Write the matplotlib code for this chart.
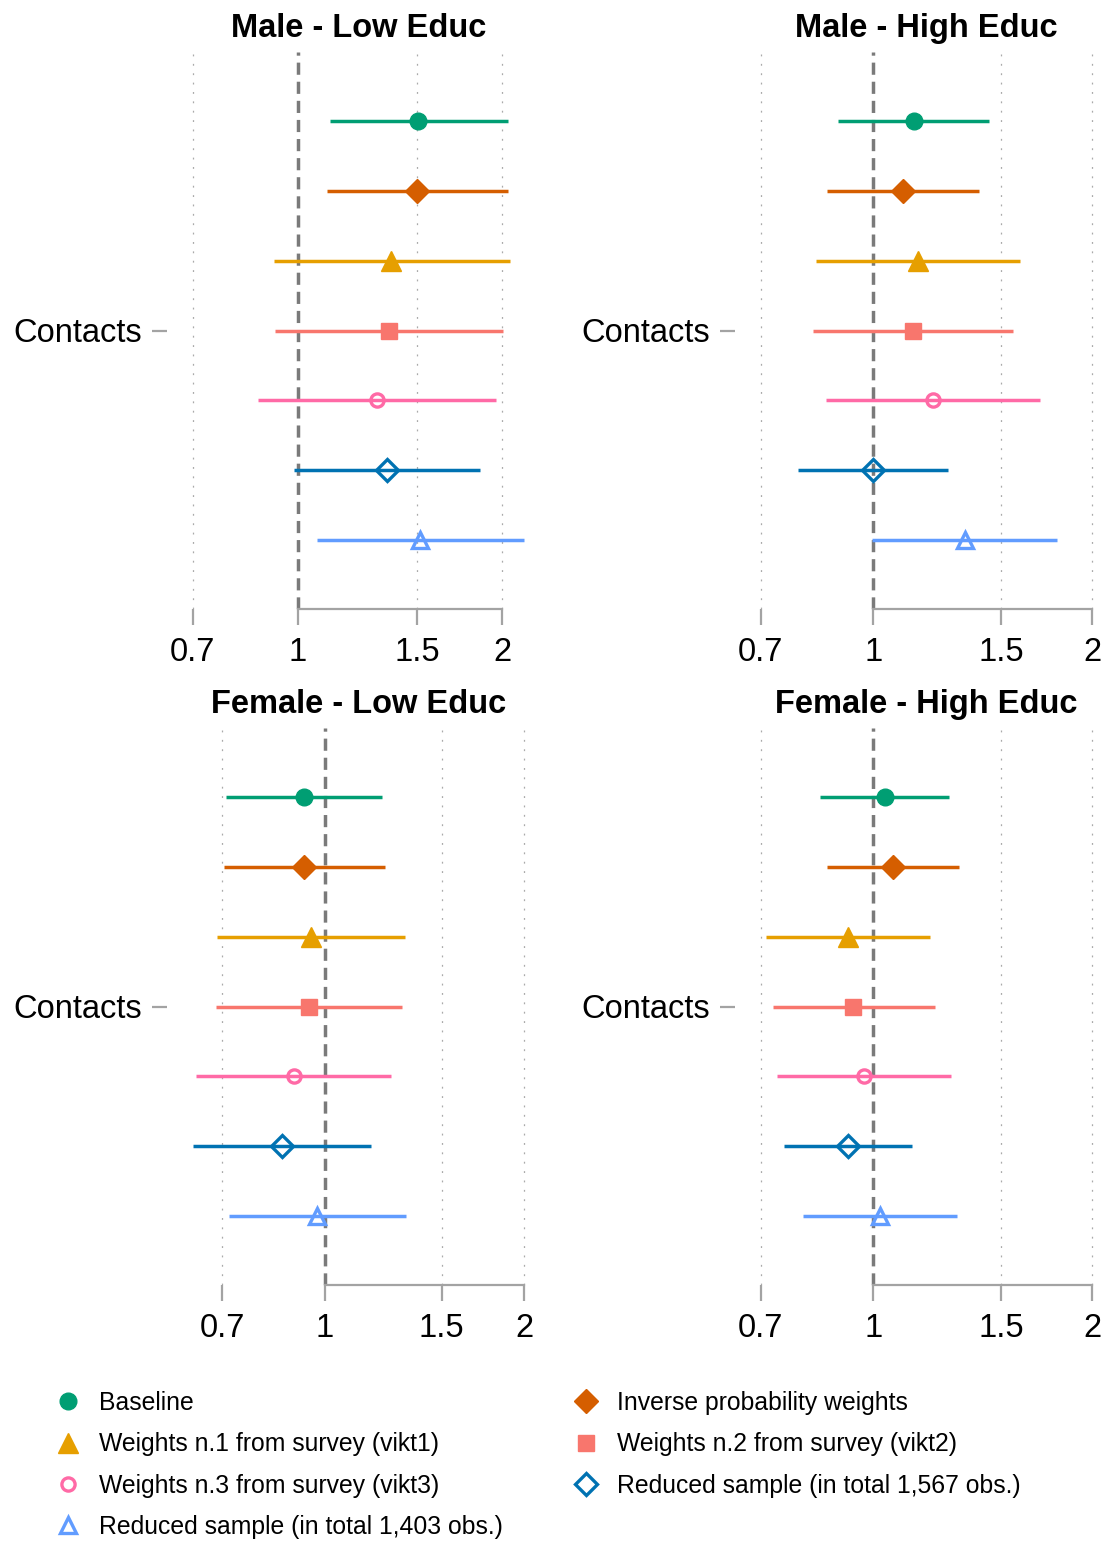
import numpy as np
import matplotlib.pyplot as plt
from matplotlib.ticker import NullLocator

plt.rcParams['font.family'] = ['Liberation Sans', 'DejaVu Sans']

# DATOS
models = ["Baseline", "Inverse probability weights",
          "Weights n.1 from survey (vikt1)", "Weights n.2 from survey (vikt2)",
          "Weights n.3 from survey (vikt3)", "Reduced sample (in total 1,567 obs.)",
          "Reduced sample (in total 1,403 obs.)"]
panels = ["Male - Low Educ", "Male - High Educ", "Female - Low Educ", "Female - High Educ"]
ylabel = "Contacts"

est_male_low = [1.503, 1.497, 1.374, 1.363, 1.310, 1.352, 1.512]
lo_male_low = [1.115, 1.104, 0.922, 0.927, 0.875, 0.986, 1.066]
hi_male_low = [2.040, 2.040, 2.056, 2.008, 1.961, 1.858, 2.157]

est_male_high = [1.136, 1.099, 1.151, 1.132, 1.206, 1.000, 1.335]
lo_male_high = [0.895, 0.864, 0.835, 0.825, 0.862, 0.787, 0.996]
hi_male_high = [1.443, 1.398, 1.589, 1.554, 1.693, 1.268, 1.786]

est_female_low = [0.929, 0.929, 0.952, 0.946, 0.898, 0.862, 0.974]
lo_female_low = [0.710, 0.704, 0.687, 0.686, 0.640, 0.632, 0.716]
hi_female_low = [1.219, 1.234, 1.320, 1.309, 1.259, 1.175, 1.328]

est_female_high = [1.038, 1.065, 0.923, 0.939, 0.971, 0.923, 1.021]
lo_female_high = [0.846, 0.865, 0.712, 0.727, 0.738, 0.753, 0.801]
hi_female_high = [1.272, 1.313, 1.195, 1.217, 1.277, 1.130, 1.303]

xbreaks = [0.7, 1, 1.5, 2]
xlabels = ["0.7", "1", "1.5", "2"]

# ESTILO
colors = ["#009E73", "#D55E00", "#E69F00", "#F8766D", "#FF6AA6", "#0072B2", "#619CFF"]
markers = ["o", "D", "^", "s", "o", "D", "^"]
filled = [True, True, True, True, False, False, False]
msizes = [12, 12, 14, 11.5, 9.5, 11, 12]
axgray = "#a3a3a3"

datos = [(est_male_low, lo_male_low, hi_male_low),
         (est_male_high, lo_male_high, hi_male_high),
         (est_female_low, lo_female_low, hi_female_low),
         (est_female_high, lo_female_high, hi_female_high)]

W, H = 1110, 1541
fig = plt.figure(figsize=(W / 100, H / 100), dpi=100)

# posiciones de paneles en pixeles (izq, arriba)
pos = [(176, 52), (744, 52), (176, 728), (744, 728)]
pw, ph = 365, 557

handles = []
for i in range(4):
    est, lo, hi = [np.array(v) for v in datos[i]]
    x0, y0 = pos[i]
    ax = fig.add_axes([x0 / W, 1 - (y0 + ph) / H, pw / W, ph / H])
    ax.set_xscale('log')

    # limites como ggplot: incluye 0.7 y 2, expansion 5% en escala log
    a = np.log(min(lo.min(), xbreaks[0]))
    b = np.log(max(hi.max(), xbreaks[-1]))
    ex = 0.05 * (b - a)
    ax.set_xlim(np.exp(a - ex), np.exp(b + ex))

    ypos = np.arange(len(models))
    ax.set_ylim(len(models) - 0.02, -0.98)

    for g in [0.7, 1.5, 2]:
        ax.axvline(g, color="#aaaaaa", lw=0.9, dashes=(1.5, 6), zorder=0)
    ax.axvline(1, color="#7a7a7a", lw=2.5, dashes=(3.5, 2.0), zorder=1)

    for k in range(len(models)):
        ax.hlines(ypos[k], lo[k], hi[k], color=colors[k], lw=2.5, zorder=2)
        if filled[k]:
            h, = ax.plot(est[k], ypos[k], marker=markers[k], ms=msizes[k],
                         color=colors[k], mec=colors[k], ls='none', zorder=3)
        else:
            h, = ax.plot(est[k], ypos[k], marker=markers[k], ms=msizes[k],
                         mfc='none', mec=colors[k], mew=2.4, ls='none', zorder=3)
        if i == 0:
            handles.append(h)

    ax.set_xticks(xbreaks)
    ax.set_xticklabels(xlabels)
    ax.xaxis.set_minor_locator(NullLocator())
    ax.set_yticks([3])
    ax.set_yticklabels([ylabel])

    for s in ['top', 'right']:
        ax.spines[s].set_visible(False)
    ax.spines['left'].set_color('none')
    ax.spines['left'].set_position(('outward', 6.5))
    ax.spines['bottom'].set_color(axgray)
    ax.spines['bottom'].set_linewidth(1.6)
    ax.spines['bottom'].set_bounds(1, 2)
    ax.tick_params(axis='x', length=11.5, width=1.6, color=axgray, labelsize=23.5, pad=8.8)
    ax.tick_params(axis='y', length=10.8, width=1.6, color=axgray, labelsize=23.5, pad=7)
    ax.set_title(panels[i], fontsize=23.5, fontweight='bold', pad=11)

# leyenda: orden por filas -> reordenar para columnas
orden = [0, 2, 4, 6, 1, 3, 5]
fig.legend([handles[j] for j in orden], [models[j] for j in orden], ncol=2,
           loc='upper left', bbox_to_anchor=(56 / W, 1 - 1391 / H),
           frameon=False, fontsize=17.8, handlelength=1.0, handletextpad=0.74,
           columnspacing=2.86, labelspacing=0.7, borderpad=0, borderaxespad=0)

fig.savefig("out.png", dpi=100)
